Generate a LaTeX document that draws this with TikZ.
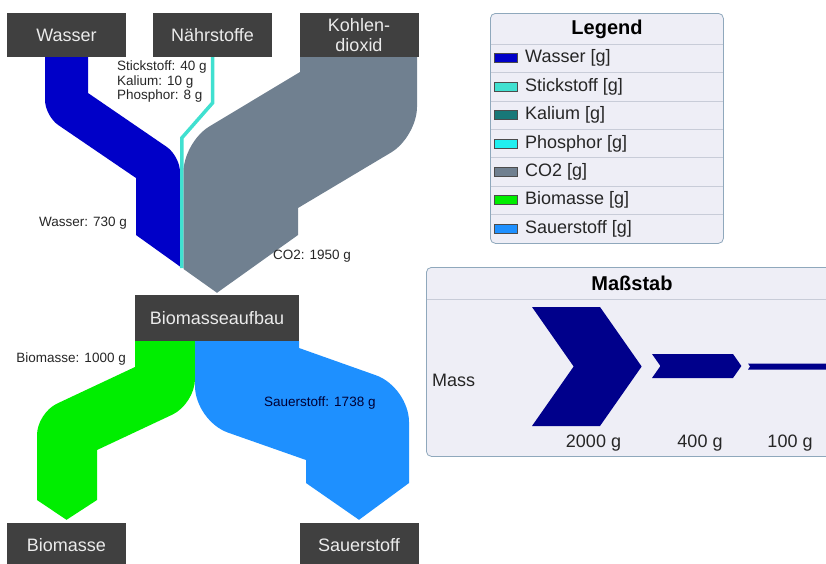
\documentclass[tikz,border=0pt]{standalone}
\usepackage{fontspec}
\setmainfont{Liberation Sans}

\definecolor{boxgray}{HTML}{404040}
\definecolor{wasserblue}{HTML}{0000C8}
\definecolor{stickstoff}{HTML}{40E0D0}
\definecolor{kalium}{HTML}{187878}
\definecolor{phosphor}{HTML}{20F0F0}
\definecolor{cotwo}{HTML}{708090}
\definecolor{biogreen}{HTML}{00EE00}
\definecolor{sauerblue}{HTML}{1E90FF}
\definecolor{scalenavy}{HTML}{00008B}
\definecolor{panelbg}{HTML}{EEEEF6}
\definecolor{panelline}{HTML}{8FA8BC}
\definecolor{rowline}{HTML}{C8CCD8}

% arrow of the mass scale: left x, body end x, mid y, half height
\newcommand{\scalearrow}[4]{%
  \fill[scalenavy] ({#1},{#3-#4}) -- ({#2},{#3-#4}) -- ({#2+0.7*#4},{#3})
    -- ({#2},{#3+#4}) -- ({#1},{#3+#4}) -- ({#1+0.7*#4},{#3}) -- cycle;}

\begin{document}
\begin{tikzpicture}[x={(1pt,0)}, y={(0,-1pt)},
        stage/.style={rectangle, fill=boxgray, text=black!8, minimum width=119pt, minimum height=44pt, inner sep=0pt, font=\fontsize{18}{20}\selectfont},
        amount/.style={font=\fontsize{13.5}{14.5}\selectfont, text=black!85, inner sep=0pt},
        panel/.style={rectangle, draw=panelline, fill=panelbg, rounded corners=5pt, line width=0.8pt, inner sep=0pt},
        row/.style={font=\fontsize{18}{20}\selectfont, text=black!85, anchor=west, inner sep=0pt},
        swatch/.style={rectangle, draw=black!70, line width=0.6pt, minimum width=23pt, minimum height=9pt, inner sep=0pt},
        heading/.style={font=\bfseries\fontsize{20}{22}\selectfont, inner sep=0pt}
    ]
        \useasboundingbox (0,0) rectangle (826,563);
        \clip (0,0) rectangle (826,563);

        \node[stage] (wasser) at (66.5,35) {Wasser};
        \node[stage] (naehr) at (212.5,35) {Nährstoffe};
        \node[stage, align=center] (kohlen) at (359,35) {Kohlen-\\dioxid};
        \node[stage, minimum width=164pt, minimum height=46pt] (aufbau) at (217,318) {Biomasseaufbau};
        \node[stage] (biomasse) at (66.5,545) {Biomasse};
        \node[stage] (sauerstoff) at (359,545) {Sauerstoff};

        % inflows
        \fill[wasserblue] ([xshift=-21.5pt]wasser.south) -- ([xshift=21.5pt]wasser.south) -- (88,93)
            [rounded corners=16pt] -- (180,156) [sharp corners] -- (180,266.5) -- (136,235) -- (136,178)
            [rounded corners=16pt] -- (45,116) [sharp corners] -- cycle;
        \draw[stickstoff, line width=3.5pt] (naehr.south) -- (212.5,103) -- (181.75,138) -- (181.75,268);
        \fill[cotwo] ([xshift=-59pt]kohlen.south) -- ([xshift=58pt]kohlen.south)
            [rounded corners=30pt] -- (417,137) [sharp corners] -- (298,208) -- (298,235)
            -- ([yshift=2pt]aufbau.north) -- (183.5,269) [rounded corners=30pt] -- (183.5,142)
            [sharp corners] -- (300,72) -- cycle;

        % outflows
        \fill[biogreen] ([xshift=-82pt]aufbau.south) -- ([xshift=-22pt]aufbau.south)
            [rounded corners=25pt] -- (195,404) [sharp corners] -- (97,450) -- (97,500)
            -- ([yshift=3pt]biomasse.north) -- (37,500) [rounded corners=22pt] -- (37,413)
            [sharp corners] -- (135,367) -- cycle;
        \fill[sauerblue] (306,483) -- (306,460) [rounded corners=35pt] -- (195,421) [sharp corners]
            -- ([xshift=-22pt]aufbau.south) -- ([xshift=82pt]aufbau.south) -- (299,348)
            [rounded corners=35pt] -- (409,387) [sharp corners] -- (409,483)
            -- ([yshift=3pt]sauerstoff.north) -- cycle;

        \node[amount, anchor=north west, align=left] (naehrlbl) at (117,61) {Stickstoff: 40 g\\Kalium: 10 g\\Phosphor: 8 g};
        \node[amount, anchor=east] (wasserlbl) at (127,223) {Wasser: 730 g};
        \node[amount, anchor=west] (cotwolbl) at (273,256) {CO2: 1950 g};
        \node[amount, anchor=east] (biolbl) at (126,359) {Biomasse: 1000 g};
        \node[amount, anchor=west, text=black!80!blue] (sauerlbl) at (264,403) {Sauerstoff: 1738 g};

        % legend
        \node[panel, minimum width=233pt, minimum height=230pt, anchor=north west] (legend) at (490,13) {};
        \node[heading] (legendtitle) at (607,29) {Legend};
        \foreach \c/\t [count=\i from 0] in {wasserblue/Wasser, stickstoff/Stickstoff, kalium/Kalium, phosphor/Phosphor, cotwo/CO2, biogreen/Biomasse, sauerblue/Sauerstoff} {
            \draw[rowline] (490.5,{44+28.4*\i}) -- (722.5,{44+28.4*\i});
            \node[swatch, fill=\c] (sw\i) at (505.5,{58.2+28.4*\i}) {};
            \node[row] (entry\i) at (525,{58.2+28.4*\i}) {\t\ [g]};
        }

        % mass scale
        \node[panel, minimum width=412pt, minimum height=189pt, anchor=north west] (scale) at (426,267) {};
        \draw[rowline] (426.5,299) -- (837,299);
        \node[heading] (scaletitle) at (632,283) {Maßstab};
        \node[row] (masslbl) at (432,380) {Mass};
        \scalearrow{532}{600}{366.5}{59.5}
        \scalearrow{652}{733}{366}{12}
        \scalearrow{748}{826}{366.5}{3}
        \node[row, anchor=center] (lbltwothousand) at (593.5,443) {2000 g};
        \node[row, anchor=center] (lblfourhundred) at (700,443) {400 g};
        \node[row, anchor=center] (lblhundred) at (790,443) {100 g};
    \end{tikzpicture}
\end{document}
